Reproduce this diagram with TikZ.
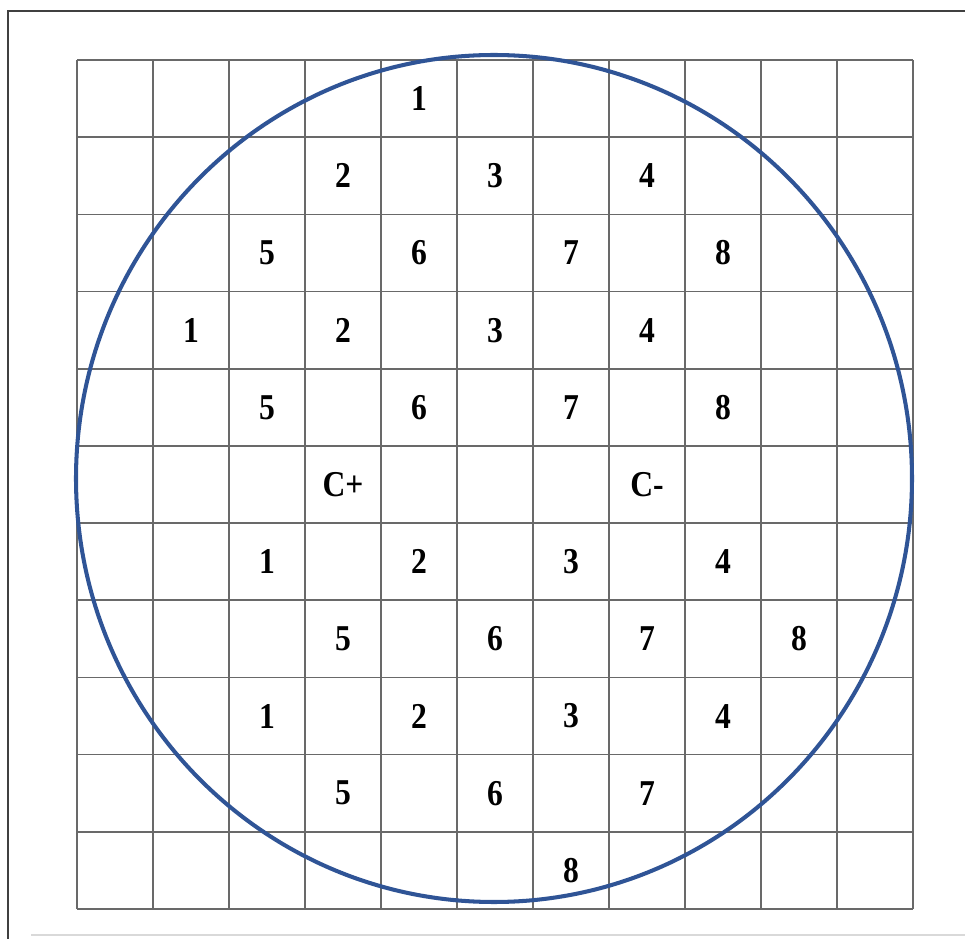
\documentclass[tikz,border=0pt]{standalone}
\usepackage{fontspec}
\setmainfont{Liberation Serif}
\definecolor{ringblue}{RGB}{47,84,150}
\definecolor{gridgray}{RGB}{105,105,105}
\begin{document}
\begin{tikzpicture}[x=0.02cm,y=-0.02cm,
  cellnum/.style={font=\bfseries\fontsize{18}{20}\selectfont, inner sep=0pt},
  gridline/.style={gridgray, line width=0.95pt}]
\useasboundingbox (0,0) rectangle (965,939);
% frame
\draw[black!75, line width=0.8pt] (965,11) -- (8,11) -- (8,939);
\draw[black!15, line width=1.2pt] (31,935) -- (965,935);
% grid
\foreach \i in {0,...,11} {
  \draw[gridline] (77+76*\i,60) -- (77+76*\i,909);
  \draw[gridline] (77,60+77.18*\i) -- (913,60+77.18*\i);
}
% numbers
\foreach \c/\r/\t in {4/0/1,
    3/1/2, 5/1/3, 7/1/4,
    2/2/5, 4/2/6, 6/2/7, 8/2/8,
    1/3/1, 3/3/2, 5/3/3, 7/3/4,
    2/4/5, 4/4/6, 6/4/7, 8/4/8,
    3/5/C+, 7/5/C-,
    2/6/1, 4/6/2, 6/6/3, 8/6/4,
    3/7/5, 5/7/6, 7/7/7, 9/7/8,
    2/8/1, 4/8/2, 6/8/3, 8/8/4,
    3/9/5, 5/9/6, 7/9/7,
    6/10/8}
  \node[cellnum] (n-\c-\r) at (115+76*\c, 98.6+77.18*\r) {\scalebox{1}[1.15]{\t}};
% ring
\draw[ringblue, line width=2.3pt] (494,478.5) ellipse [x radius=418, y radius=423.5];
\end{tikzpicture}
\end{document}
